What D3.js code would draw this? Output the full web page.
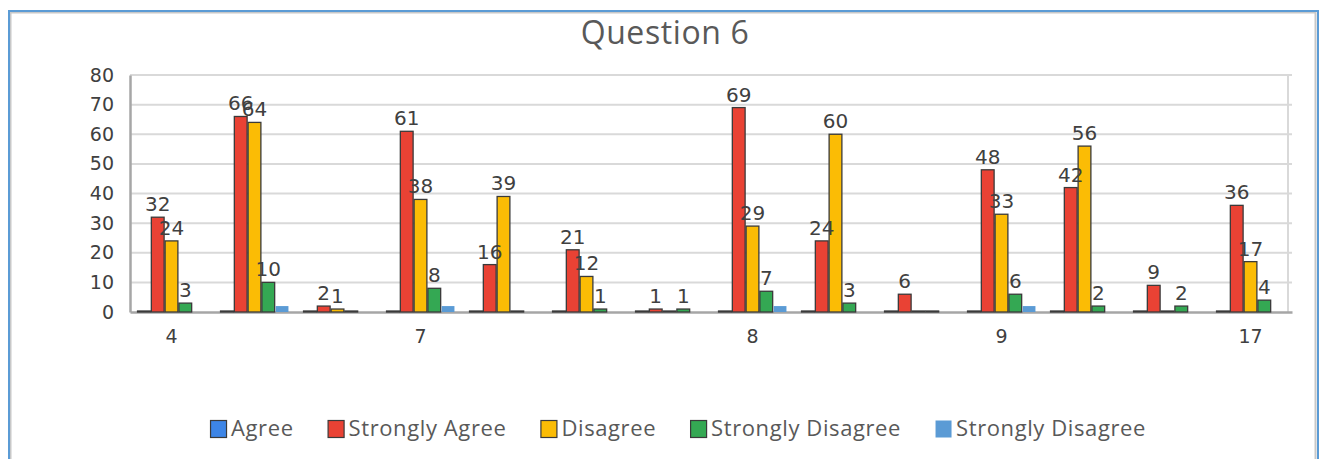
<!DOCTYPE html>
<html>
<head>
<meta charset="utf-8">
<script src="https://cdn.jsdelivr.net/npm/d3@7"></script>
<style>
  html, body { margin: 0; padding: 0; background: #ffffff; }
  svg { display: block; }
</style>
</head>
<body>
<svg id="chart" width="1330" height="459"></svg>
<script>
// Category labels along the x axis (empty slots carry no label)
const categories = ["4", "", "", "7", "", "", "", "8", "", "", "9", "", "", "17"];

// Series names as shown in the legend
const seriesNames = ["Agree", "Strongly Agree", "Disagree", "Strongly Disagree", "Strongly Disagree"];

// Values per series, one per category
const agree            = [0, 0, 0, 0, 0, 0, 0, 0, 0, 0, 0, 0, 0, 0];
const stronglyAgree    = [32, 66, 2, 61, 16, 21, 1, 69, 24, 6, 48, 42, 9, 36];
const disagree         = [24, 64, 1, 38, 39, 12, 0, 29, 60, 0, 33, 56, 0, 17];
const stronglyDisagree = [3, 10, 0, 8, 0, 1, 1, 7, 3, 0, 6, 2, 2, 4];
const stronglyDisagree2 = [0, 2, 0, 2, 0, 0, 0, 2, 0, 0, 2, 0, 0, 0];

const seriesValues = [agree, stronglyAgree, disagree, stronglyDisagree, stronglyDisagree2];

// Y axis ticks
const yTicks = [0, 10, 20, 30, 40, 50, 60, 70, 80];

const colors = ["#3d85e6", "#e94234", "#fbbc05", "#34a853", "#5b9bd5"];
const bordered = [true, true, true, true, false];
const labelled = [false, true, true, true, false];

const svg = d3.select("#chart");
const plot = { left: 130, right: 1292, top: 75, bottom: 312 };

// Outer chart frame
svg.append("rect")
  .attr("x", 10.5).attr("y", 12.5)
  .attr("width", 1305).attr("height", 470)
  .attr("fill", "none").attr("stroke", "#c8c8c8").attr("stroke-width", 2);
svg.append("rect")
  .attr("x", 9).attr("y", 11)
  .attr("width", 1309).attr("height", 470)
  .attr("fill", "none").attr("stroke", "#5b9bd5").attr("stroke-width", 2);

// Title
svg.append("text")
  .attr("x", 665).attr("y", 44)
  .attr("text-anchor", "middle")
  .attr("font-family", "'Open Sans', 'DejaVu Sans', sans-serif")
  .attr("font-size", 32)
  .attr("letter-spacing", 0.6)
  .attr("fill", "#595959")
  .text("Question 6");

const idx = categories.map((c, i) => i);
const x0 = d3.scaleBand().domain(idx).range([plot.left, plot.right])
  .paddingInner(0.17).paddingOuter(0.085);
const x1 = d3.scaleBand().domain(d3.range(seriesNames.length)).range([0, x0.bandwidth()]);
const y = d3.scaleLinear().domain([0, 80]).range([plot.bottom, plot.top]);

// Gridlines
svg.append("g").selectAll("line")
  .data(yTicks.filter(t => t > 0))
  .join("line")
  .attr("x1", plot.left).attr("x2", plot.right)
  .attr("y1", d => y(d)).attr("y2", d => y(d))
  .attr("stroke", "#d9d9d9").attr("stroke-width", 2);
// plot area right edge
svg.append("line")
  .attr("x1", plot.right - 4).attr("x2", plot.right - 4)
  .attr("y1", plot.top).attr("y2", plot.bottom)
  .attr("stroke", "#d9d9d9").attr("stroke-width", 2);

// Y axis
const yAxis = d3.axisLeft(y).tickValues(yTicks).tickSize(0).tickPadding(16);
const gy = svg.append("g").attr("transform", `translate(${plot.left},0)`).call(yAxis);
gy.select(".domain").attr("stroke", "#a6a6a6").attr("stroke-width", 2.5);
gy.selectAll("text")
  .attr("font-family", "'DejaVu Sans', Verdana, sans-serif")
  .attr("font-size", 19).attr("fill", "#404040");

// X axis baseline (drawn beneath the bars)
const xAxis = d3.axisBottom(x0).tickSize(0).tickPadding(18).tickFormat(i => categories[i]);
const gx = svg.append("g").attr("transform", `translate(0,${plot.bottom})`).call(xAxis);
gx.select(".domain").attr("stroke", "#a6a6a6").attr("stroke-width", 2.5);
gx.selectAll("text")
  .attr("font-family", "'DejaVu Sans', Verdana, sans-serif")
  .attr("font-size", 19).attr("fill", "#404040");

// Bars
const groups = svg.append("g").selectAll("g")
  .data(idx)
  .join("g")
  .attr("transform", i => `translate(${x0(i)},0)`);

groups.selectAll("rect")
  .data(i => seriesValues.map((vals, s) => ({ s, v: vals[i] })))
  .join("rect")
  .filter(d => bordered[d.s] || d.v > 0)
  .attr("x", d => x1(d.s) + 0.5)
  .attr("width", x1.bandwidth() - 1)
  .attr("y", d => y(d.v) - (d.v === 0 ? 1 : 0))
  .attr("height", d => Math.max(y(0) - y(d.v), 1))
  .attr("fill", d => colors[d.s])
  .attr("stroke", d => bordered[d.s] ? "#3a3a3a" : "none")
  .attr("stroke-width", 1.3);

// Data labels
groups.selectAll("text.lbl")
  .data(i => seriesValues.map((vals, s) => ({ s, v: vals[i] })).filter(d => labelled[d.s] && d.v > 0))
  .join("text")
  .attr("class", "lbl")
  .attr("x", d => x1(d.s) + x1.bandwidth() / 2)
  .attr("y", d => y(d.v) - 6)
  .attr("text-anchor", "middle")
  .attr("font-family", "'DejaVu Sans', Verdana, sans-serif")
  .attr("font-size", 20)
  .attr("fill", "#404040")
  .text(d => d.v);

// Legend
const legend = svg.append("g");
const gap = 34;
let lx = 0;
seriesNames.forEach((name, s) => {
  const item = legend.append("g").attr("transform", `translate(${lx},0)`);
  item.append("rect")
    .attr("x", 0.5).attr("y", -8.5).attr("width", 16).attr("height", 17)
    .attr("fill", colors[s])
    .attr("stroke", bordered[s] ? "#3a3a3a" : "none").attr("stroke-width", 1.2);
  const t = item.append("text")
    .attr("x", 21).attr("y", 7)
    .attr("font-family", "'Open Sans', 'DejaVu Sans', sans-serif")
    .attr("font-size", 22)
    .attr("letter-spacing", 0.6)
    .attr("fill", "#595959")
    .text(name);
  lx += 21 + t.node().getComputedTextLength() + gap;
});
const legendWidth = lx - gap;
legend.attr("transform", `translate(${678 - legendWidth / 2},429)`);
</script>
</body>
</html>
